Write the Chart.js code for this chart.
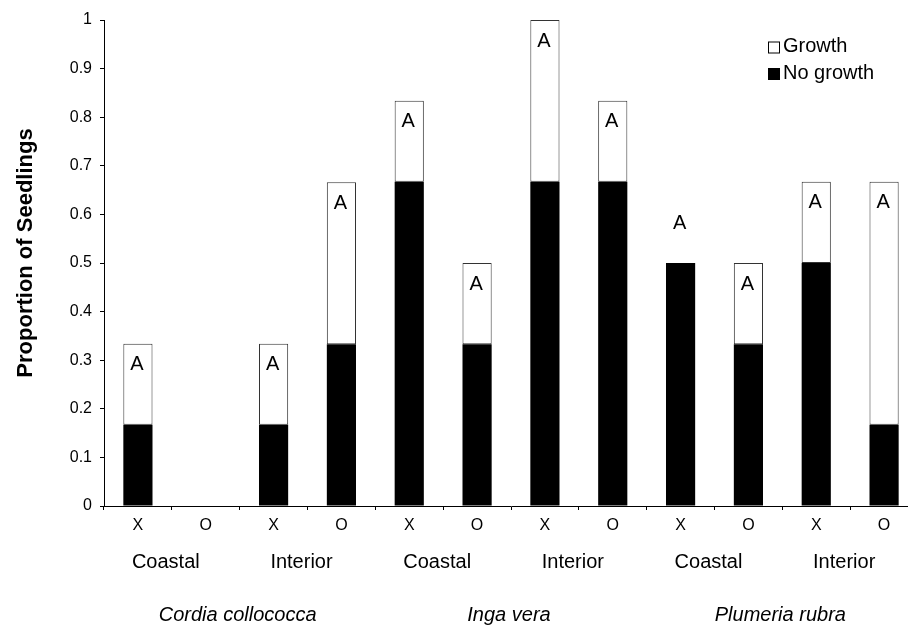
<!DOCTYPE html>
<html>
<head>
<meta charset="utf-8">
<style>
  html, body { margin: 0; padding: 0; background: #fff; overflow: hidden; }
  #wrap { position: absolute; left: 0; top: 0; width: 920px; height: 627px; }
</style>
<script src="https://cdn.jsdelivr.net/npm/chart.js@4.4.1/dist/chart.umd.min.js"></script>
</head>
<body>
<div id="wrap"><canvas id="c" width="920" height="627"></canvas></div>
<script>
// Proportion of seedlings by species, site and treatment
const treatments = ['X', 'O', 'X', 'O', 'X', 'O', 'X', 'O', 'X', 'O', 'X', 'O'];
const sites = ['Coastal', 'Interior', 'Coastal', 'Interior', 'Coastal', 'Interior'];
const species = ['Cordia collococca', 'Inga vera', 'Plumeria rubra'];
const noGrowth = [0.167, 0, 0.167, 0.333, 0.667, 0.333, 0.667, 0.667, 0.5, 0.333, 0.5, 0.167];
const growth   = [0.167, 0, 0.167, 0.333, 0.167, 0.167, 0.333, 0.167, 0, 0.167, 0.167, 0.5];
const letters  = ['A', '', 'A', 'A', 'A', 'A', 'A', 'A', 'A', 'A', 'A', 'A'];
const yTitle = 'Proportion of Seedlings';

const FONT = '"Liberation Sans", Arial, sans-serif';
Chart.defaults.font.family = FONT;
Chart.defaults.color = '#000';

// Letters at the top of each stacked bar
const letterPlugin = {
  id: 'letters',
  afterDatasetsDraw(chart) {
    const ctx = chart.ctx;
    const y = chart.scales.y;
    const meta = chart.getDatasetMeta(1);
    ctx.save();
    ctx.font = '20px ' + FONT;
    ctx.fillStyle = '#000';
    ctx.textAlign = 'center';
    ctx.textBaseline = 'middle';
    letters.forEach((t, i) => {
      if (!t) return;
      const bar = meta.data[i];
      const top = y.getPixelForValue(noGrowth[i] + growth[i]);
      const ty = growth[i] > 0 ? top + 21 : top - 40;
      ctx.fillText(t, bar.x - 1, ty);
    });
    ctx.restore();
  }
};

// Site and species labels below the treatment ticks, plus the value-axis title
const groupPlugin = {
  id: 'groups',
  afterDraw(chart) {
    const ctx = chart.ctx;
    const x = chart.scales.x;
    const area = chart.chartArea;
    ctx.save();
    ctx.fillStyle = '#000';
    ctx.textAlign = 'center';
    ctx.textBaseline = 'middle';
    ctx.font = '20px ' + FONT;
    sites.forEach((s, i) => {
      const cx = (x.getPixelForValue(2 * i) + x.getPixelForValue(2 * i + 1)) / 2;
      ctx.fillText(s, cx - 6, 562);
    });
    ctx.font = 'italic 20px ' + FONT;
    species.forEach((s, i) => {
      const cx = (x.getPixelForValue(4 * i + 1) + x.getPixelForValue(4 * i + 2)) / 2;
      ctx.fillText(s, cx - 2, 615);
    });
    ctx.translate(26, (area.top + area.bottom) / 2 - 10);
    ctx.rotate(-Math.PI / 2);
    ctx.font = 'bold 22px ' + FONT;
    ctx.fillText(yTitle, 0, 0);
    ctx.restore();
  }
};

// Legend box in the upper right of the plot
const legendPlugin = {
  id: 'boxLegend',
  afterDraw(chart) {
    const ctx = chart.ctx;
    const items = [chart.data.datasets[1], chart.data.datasets[0]];
    ctx.save();
    ctx.font = '20px ' + FONT;
    ctx.textBaseline = 'middle';
    ctx.textAlign = 'left';
    items.forEach((ds, i) => {
      const cy = 47.5 + i * 26.5;
      ctx.fillStyle = ds.backgroundColor;
      ctx.fillRect(768.5, cy - 5.5, 11, 11);
      ctx.strokeStyle = '#000';
      ctx.lineWidth = 1;
      ctx.strokeRect(768.5, cy - 5.5, 11, 11);
      ctx.fillStyle = '#000';
      ctx.fillText(ds.label, 783, cy - 1);
    });
    ctx.restore();
  }
};

new Chart(document.getElementById('c'), {
  type: 'bar',
  data: {
    labels: treatments,
    datasets: [
      {
        label: 'No growth',
        data: noGrowth,
        backgroundColor: '#000',
        borderWidth: 0,
        categoryPercentage: 1,
        barPercentage: 0.43
      },
      {
        label: 'Growth',
        data: growth,
        backgroundColor: '#fff',
        borderColor: '#333',
        borderWidth: 1,
        borderSkipped: false,
        categoryPercentage: 1,
        barPercentage: 0.43
      }
    ]
  },
  options: {
    responsive: false,
    animation: false,
    devicePixelRatio: 1,
    layout: { padding: { top: 20, right: 2, left: 0, bottom: 0 } },
    plugins: { legend: { display: false }, tooltip: { enabled: false } },
    scales: {
      x: {
        stacked: true,
        offset: true,
        grid: { offset: true, drawOnChartArea: false, tickLength: 4, tickColor: '#000' },
        border: { color: '#000', width: 1 },
        ticks: { font: { size: 16 }, color: '#000', padding: 6, maxRotation: 0, autoSkip: false },
        afterFit(s) { s.height = 121; }
      },
      y: {
        stacked: true,
        min: 0,
        max: 1,
        grid: { drawOnChartArea: false, tickLength: 4, tickColor: '#000' },
        border: { color: '#000', width: 1 },
        ticks: {
          stepSize: 0.1,
          font: { size: 16 },
          color: '#000',
          padding: 8,
          callback: v => String(Number(v.toFixed(1)))
        },
        afterFit(s) { s.width = 104; }
      }
    }
  },
  plugins: [letterPlugin, groupPlugin, legendPlugin]
});
</script>
</body>
</html>
